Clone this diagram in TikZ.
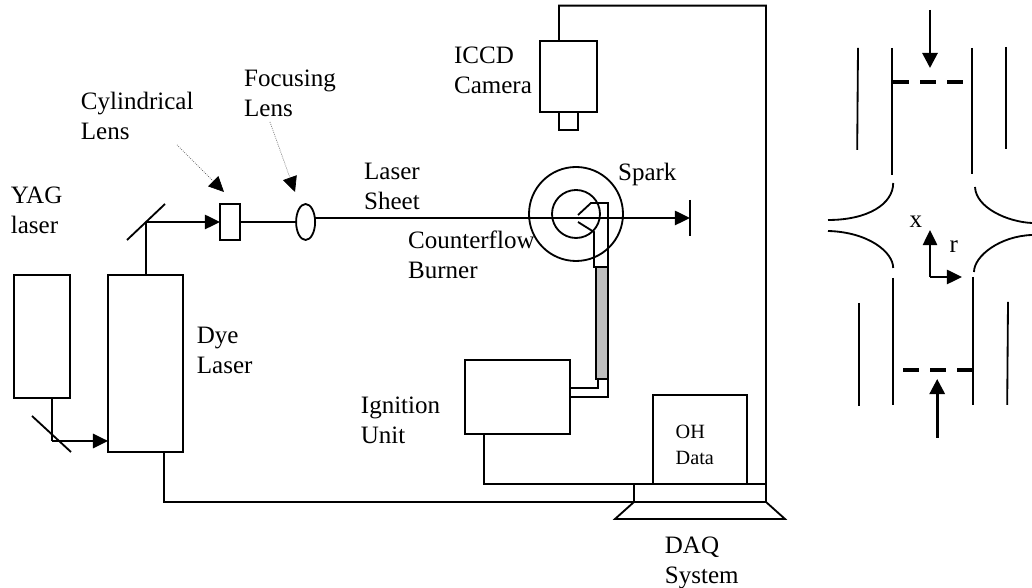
\documentclass[tikz,border=0pt]{standalone}
\usepackage{fontspec}
\setmainfont{Liberation Serif}
\usetikzlibrary{positioning,calc,arrows.meta,shapes.geometric}

\begin{document}
\begin{tikzpicture}[
  line width=1.3pt,
  unit/.style={draw, inner sep=0pt, outer sep=0pt, minimum width=#1},
  lens/.style={ellipse, draw, inner sep=0pt, outer sep=0pt, minimum width=4.75mm, minimum height=9mm},
  ring/.style={circle, draw, inner sep=0pt, outer sep=0pt, minimum size=#1},
  lbl/.style={font=\fontsize{17.8}{21.3}\selectfont, align=left, anchor=west, inner sep=0pt},
  fl/.style={-{Triangle[length=3.8mm,width=3.6mm]}},
  jet/.style={-{Triangle[length=3.8mm,width=3.8mm]}, line width=2pt},
  hint/.style={-{Triangle[length=3.8mm,width=3.6mm,black]}, densely dotted, line width=0.5pt, black!70},
  plate/.style={line width=2.4pt, dash pattern=on 3.875mm off 2.9mm},
]
  \useasboundingbox (0,0) rectangle (25.8,14.7);

  %=================== lasers and optics ===================
  \node[unit=14mm, minimum height=30.75mm] (yag) at (1.05,6.29) {};
  \node[unit=18.75mm, minimum height=44.25mm] (dye) at (3.64,5.61) {};
  \node[unit=5mm, minimum height=9mm] (cyl) at (5.75,9.15) {};
  \node[lens] (foc) at (7.64,9.15) {};
  \coordinate (mlow) at (1.3,3.675);
  \coordinate (mup) at (3.64,9.15);
  \coordinate (stop) at (17.25,9.25);
  \draw (0.8,4.3) -- (1.775,3.4);
  \draw (3.175,8.7) -- (4.125,9.6);
  \draw (yag.south -| mlow) -- (mlow);
  \draw[fl] (mlow) -- (mlow -| dye.west);
  \draw (dye.north) -- (mup);
  \draw[fl] (mup) -- (cyl.west);
  \draw (cyl.east) -- (foc.west);
  \draw[fl] (foc.east |- stop) -- (stop);
  \draw (17.25,9.7) -- (17.25,8.8);

  %=================== pointers to the lenses ===================
  \coordinate (cylfrom) at (4.425,11.075);
  \coordinate (focfrom) at (6.75,11.65);
  \draw[hint] (cylfrom) -- (5.6,9.9);
  \draw[hint] (focfrom) -- (7.375,9.9);

  %=================== camera ===================
  \node[unit=14.25mm, minimum height=17.75mm] (cam) at (14.21,12.79) {};
  \node[unit=4.75mm, minimum height=4.5mm, below=0pt of cam] (nub) {};

  %=================== burner and spark ===================
  \node[ring=23.5mm] (outer) at (14.4,9.35) {};
  \node[ring=12mm] (inner) at (14.4,9.35) {};
  \node[unit=3mm, minimum height=28mm, fill=black!25] (tube) at (15.05,6.625) {};
  \draw (14.45,9.325) -- (14.775,9.625) -| (tube.north east);
  \draw (14.45,9.15) -- (14.85,8.9) -- (14.85,8.025) -- (tube.north west);

  %=================== ignition and acquisition ===================
  \node[unit=26.25mm, minimum height=18.5mm] (ign) at (12.94,4.775) {};
  \node[unit=33mm, minimum height=4.5mm] (daq) at (17.5,2.375) {};
  \node[unit=23.5mm, minimum height=22.25mm, above=0pt of daq] (mon) {};
  \coordinate (loop) at (19.15,14.56);
  \draw ([yshift=2.35mm]ign.east) -| ([xshift=-2.5mm]tube.south east);
  \draw (ign.east) -| (tube.south east);
  \draw ([xshift=-8.4mm]ign.south) |- (daq.north west);
  \draw ([xshift=4.6mm]dye.south) |- (daq.south west);
  \draw ([xshift=-2.35mm]cam.north) |- (loop) -- (daq.north east);
  \draw (daq.south west) -- (15.375,1.725) -- (19.625,1.725) -- (daq.south east);

  %=================== labels ===================
  \node[lbl] (lcyl) at (2.0,11.81) {Cylindrical\\Lens};
  \node[lbl] (lfoc) at (6.08,12.37) {Focusing\\Lens};
  \node[lbl] (lsheet) at (9.08,10.03) {Laser\\Sheet};
  \node[lbl] (lyag) at (0.25,9.43) {YAG\\laser};
  \node[lbl] (ldye) at (4.9,5.95) {Dye\\Laser};
  \node[lbl] (lcam) at (11.33,12.95) {ICCD\\Camera};
  \node[lbl] (lspark) at (15.43,10.33) {Spark};
  \node[lbl] (lburn) at (10.18,8.33) {Counterflow\\Burner};
  \node[lbl] (lign) at (9.0,4.2) {Ignition\\Unit};
  \node[lbl, font=\fontsize{14.4}{18}\selectfont] (loh) at (16.87,3.58) {OH\\Data};
  \node[lbl] (ldaq) at (16.6,0.625) {DAQ\\System};

  %=================== opposed-jet detail ===================
  \draw (21.45,13.5) -- (21.43,10.95);
  \draw (22.31,13.5) -- (22.31,10.33);
  \draw (24.3,13.5) -- (24.3,10.35);
  \draw (25.15,13.525) -- (25.15,10.975);
  \draw (21.48,7.125) -- (21.48,4.55);
  \draw (22.33,7.75) -- (22.33,4.575);
  \draw (24.33,7.775) -- (24.33,4.575);
  \draw (25.2,7.15) -- (25.18,4.575);
  \draw (22.33,10.125) .. controls (22.33,9.6) and (21.7,9.2) .. (20.7,9.2);
  \draw (20.7,8.925) .. controls (21.7,8.9) and (22.33,8.4) .. (22.33,8.0);
  \draw (24.375,10.025) .. controls (24.4,9.5) and (25.2,9.15) .. (25.8,9.125);
  \draw (25.8,8.825) .. controls (25.0,8.8) and (24.35,8.3) .. (24.35,7.9);
  \draw[plate] (22.33,12.65) -- (24.08,12.65);
  \draw[plate] (22.58,5.45) -- (24.33,5.45);
  \coordinate (topin) at (23.25,14.45);
  \coordinate (botin) at (23.43,3.75);
  \draw[jet] (topin) -- (23.25,13.0);
  \draw[jet] (botin) -- (23.43,5.225);

  \coordinate (origin) at (23.25,7.775);
  \draw[fl] (origin) -- (23.25,8.95);
  \draw[fl] (origin) -- (24.05,7.775);
  \node[lbl] (lx) at (22.72,9.15) {x};
  \node[lbl] (lr) at (23.72,8.53) {r};
\end{tikzpicture}
\end{document}
